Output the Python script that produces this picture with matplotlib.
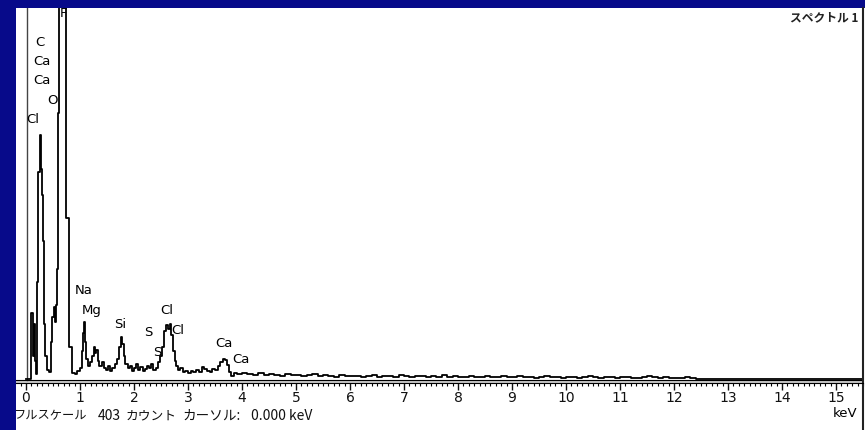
import numpy as np
import matplotlib.pyplot as plt
from matplotlib.ticker import MultipleLocator, FormatStrFormatter

# EDS spectrum, low-energy part read as step edges (keV) and counts
peak_kev = [0.00, 0.10, 0.13, 0.15, 0.17, 0.19, 0.21, 0.22, 0.25, 0.27,
            0.30, 0.32, 0.34, 0.36, 0.38, 0.42, 0.46, 0.48, 0.52, 0.54,
            0.56, 0.58, 0.60, 0.62, 0.74, 0.80, 0.85, 0.90, 0.95, 1.00,
            1.03, 1.06, 1.08, 1.10, 1.12, 1.15, 1.18, 1.22, 1.26, 1.28,
            1.30, 1.33, 1.36, 1.40, 1.44, 1.48, 1.52, 1.56, 1.60, 1.64,
            1.68, 1.72, 1.76, 1.78, 1.81, 1.84, 1.88, 1.92, 1.96, 2.00,
            2.04, 2.08, 2.12, 2.16, 2.20, 2.24, 2.28, 2.32, 2.36, 2.40,
            2.44, 2.48, 2.52, 2.56, 2.60, 2.63, 2.66, 2.69, 2.72, 2.75,
            2.78, 2.82, 2.86, 2.90, 2.95, 3.00, 3.05, 3.10, 3.15, 3.20,
            3.25, 3.30, 3.35, 3.40, 3.45, 3.50, 3.55, 3.60, 3.64, 3.68,
            3.72, 3.76, 3.80, 3.85, 3.90, 4.00]
peak_cts = [0, 72, 25, 60, 20, 5, 105, 225, 265, 228,
            200, 150, 60, 25, 10, 8, 40, 67, 78, 62,
            80, 120, 289, 520, 175, 35, 7, 5, 9, 12,
            30, 50, 62, 40, 22, 14, 18, 25, 35, 28,
            32, 20, 14, 18, 12, 10, 14, 9, 12, 16,
            22, 35, 46, 38, 25, 16, 12, 14, 9, 12,
            16, 10, 13, 9, 11, 14, 12, 16, 10, 12,
            18, 25, 35, 52, 59, 54, 60, 48, 30, 20,
            14, 10, 12, 8, 9, 7, 9, 8, 10, 8,
            13, 11, 9, 8, 11, 10, 14, 18, 22, 21,
            15, 8, 3, 6, 5, 6]

# high-energy tail, 0.1 keV channels from 4.1 keV
tail_start = 4.1
tail_cts = [5, 4, 6, 4, 5, 4, 3, 5, 4, 4,
            3, 4, 5, 3, 4, 3, 2, 4, 3, 3,
            3, 2, 3, 4, 2, 3, 3, 2, 4, 3,
            2, 3, 3, 2, 3, 2, 4, 2, 3, 2,
            2, 3, 2, 2, 3, 2, 2, 3, 2, 2,
            3, 2, 2, 1, 2, 3, 2, 2, 1, 2,
            2, 1, 2, 3, 2, 1, 2, 2, 1, 2,
            2, 1, 1, 2, 3, 2, 1, 2, 1, 1,
            1, 2, 1]

full_scale = 403

# element markers: (label, keV, counts)
elem_labels = [("C", 0.26, 366), ("Ca", 0.30, 345), ("Ca", 0.30, 324),
               ("O", 0.50, 303), ("Cl", 0.13, 282), ("F", 0.69, 397),
               ("Na", 1.06, 96), ("Mg", 1.22, 74), ("Si", 1.74, 59),
               ("S", 2.26, 50), ("S", 2.43, 29), ("Cl", 2.61, 74),
               ("Cl", 2.81, 53), ("Ca", 3.67, 39), ("Ca", 3.98, 21)]

# status line pieces: (text, keV position of left edge, font size)
status_parts = [("フルスケール", -0.24, 8.8), ("403", 1.33, 10),
                ("カウント", 1.85, 9.2), ("カーソル:", 2.89, 9.8),
                ("0.000 keV", 4.16, 10)]

jp_font = ['Noto Sans CJK JP', 'DejaVu Sans']


def main():
    tail_kev = list(np.round(tail_start + 0.1 * np.arange(len(tail_cts)), 2))
    kev = peak_kev + tail_kev + [tail_kev[-1] + 0.1, 15.6]
    cts = peak_cts + tail_cts + [0, 0]

    fig = plt.figure(figsize=(8.65, 4.3), dpi=100, facecolor='#070a8a')
    W, H = 865, 430
    # white panel behind the plot
    fig.patches.append(plt.Rectangle((16 / W, 0), 1 - 16 / W, 1 - 8 / H,
                                     transform=fig.transFigure, zorder=-5,
                                     facecolor='white', edgecolor='none'))
    ax = fig.add_axes([16 / W, 0, (863 - 16) / W, (430 - 8) / H])
    ax.set_facecolor('white')

    x0, px_kev = 26, 54.0
    ax.set_xlim(-(x0 - 16) / px_kev, (863 - x0) / px_kev)
    ax.set_ylim(-(430 - 379) / 0.92, full_scale)

    # cursor
    ax.plot([0.02, 0.02], [-1, full_scale], color='#444444', lw=1.0)

    ax.step(kev, cts, where='post', color='black', lw=1.3)

    # double axis line
    ax.axhspan(-4.3, -1.1, color='#c8c8c8', lw=0)
    ax.axhline(-1.1, color='black', lw=0.8)

    for s in ('top', 'left'):
        ax.spines[s].set_visible(False)
    ax.spines['bottom'].set_position(('data', -4.3))
    ax.spines['right'].set_color('#222222')
    ax.spines['right'].set_linewidth(1.5)
    ax.set_yticks([])
    ax.xaxis.set_major_locator(MultipleLocator(1))
    ax.xaxis.set_minor_locator(MultipleLocator(0.1))
    ax.xaxis.set_major_formatter(FormatStrFormatter('%d'))
    ax.tick_params(axis='x', which='major', direction='out', length=5,
                   width=1, pad=1, labelsize=10, colors='#111111')
    ax.tick_params(axis='x', which='minor', direction='out', length=2.5,
                   width=0.8)

    for name, e, c in elem_labels:
        ax.text(e, c, name, ha='center', va='center', fontsize=9.5,
                clip_on=True)

    ax.text(15.17, -38, 'keV', ha='center', va='center', fontsize=9.5)
    for txt, e, fs in status_parts:
        ax.text(e, -40, txt, ha='left', va='center', fontsize=fs,
                family=jp_font, color='#111111', clip_on=True)
    ax.text(15.41, 392, 'スペクトル 1', ha='right', va='center', fontsize=8.5,
            family=jp_font, color='#222222', fontweight='bold')

    fig.savefig('out.png', dpi=100, facecolor=fig.get_facecolor())


if __name__ == '__main__':
    main()
